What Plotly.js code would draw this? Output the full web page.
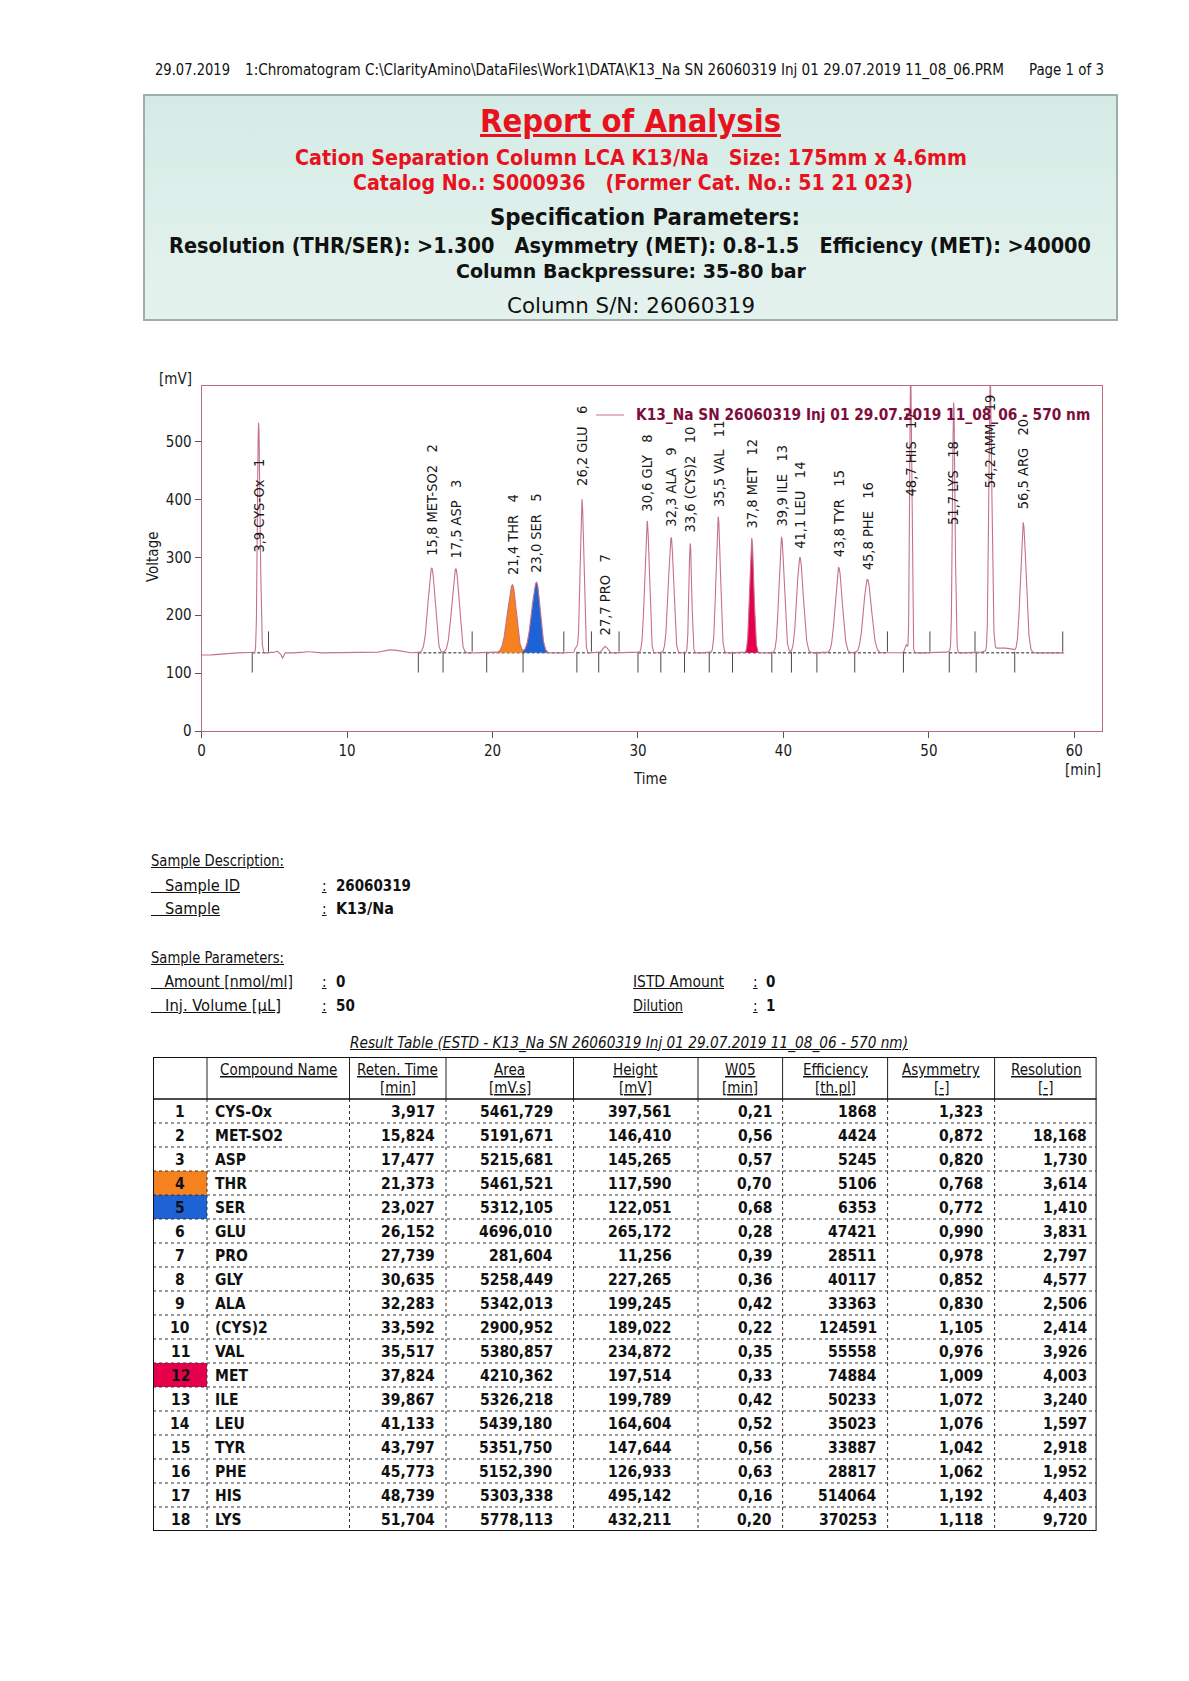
<!DOCTYPE html>
<html><head><meta charset="utf-8">
<script src="https://cdn.plot.ly/plotly-3.0.1.min.js"></script>
<style>
body{margin:0;background:#fff;}
#page{position:relative;width:1189px;height:1681px;overflow:hidden;background:#fff;}
#box{position:absolute;left:143px;top:94px;width:971px;height:223px;border:2px solid #9db0a8;background:linear-gradient(180deg,#d4ebe5 0%,#dff0eb 60%,#e4f2ee 100%);}
#plot{position:absolute;left:0;top:0;width:1189px;height:1681px;}
#overlay{position:absolute;left:0;top:0;width:1189px;height:1681px;pointer-events:none;}
.t{position:absolute;white-space:pre;transform-origin:0 50%;font-family:'DejaVu Sans Condensed','Liberation Sans Narrow','Liberation Sans',sans-serif;color:#111;}
</style></head><body>
<div id="page">
 <div id="box"></div>
 <div id="plot"></div>
 <div id="overlay"></div>
</div>
<script>
// ---------------- DATA ----------------
const compoundNames = ['CYS-Ox','MET-SO2','ASP','THR','SER','GLU','PRO','GLY','ALA','(CYS)2','VAL','MET','ILE','LEU','TYR','PHE','HIS','LYS'];
const retTime   = [3.917,15.824,17.477,21.373,23.027,26.152,27.739,30.635,32.283,33.592,35.517,37.824,39.867,41.133,43.797,45.773,48.739,51.704];
const areaVals  = [5461.729,5191.671,5215.681,5461.521,5312.105,4696.010,281.604,5258.449,5342.013,2900.952,5380.857,4210.362,5326.218,5439.180,5351.750,5152.390,5303.338,5778.113];
const heightVals= [397.561,146.410,145.265,117.590,122.051,265.172,11.256,227.265,199.245,189.022,234.872,197.514,199.789,164.604,147.644,126.933,495.142,432.211];
const w05Vals   = [0.21,0.56,0.57,0.70,0.68,0.28,0.39,0.36,0.42,0.22,0.35,0.33,0.42,0.52,0.56,0.63,0.16,0.20];
const efficiencyVals = [1868,4424,5245,5106,6353,47421,28511,40117,33363,124591,55558,74884,50233,35023,33887,28817,514064,370253];
const asymmetryVals  = [1.323,0.872,0.820,0.768,0.772,0.990,0.978,0.852,0.830,1.105,0.976,1.009,1.072,1.076,1.042,1.062,1.192,1.118];
const resolutionVals = [null,18.168,1.730,3.614,1.410,3.831,2.797,4.577,2.506,2.414,3.926,4.003,3.240,1.597,2.918,1.952,4.403,9.720];
const headerLine1 = ['','Compound Name','Reten. Time','Area','Height','W05','Efficiency','Asymmetry','Resolution'];
const headerLine2 = ['','','[min]','[mV.s]','[mV]','[min]','[th.pl]','[-]','[-]'];

// peaks on the chart that are not in this page of the table
const extraNames  = ['AMM','ARG'];
const extraRT     = [54.21,56.48];
const extraHeight = [470,224];
const extraW05    = [0.24,0.45];
const extraAsym   = [1.25,1.10];

// small baseline disturbances: time, height [mV], width [min]
const featureT = [0.3,5.15,5.55,7.3,12.7,13.35,25.75,48.45,51.45,55.0];
const featureH = [-4,3,-9,2,4,4,10,14,3,9];
const featureW = [0.8,0.1,0.07,0.25,0.35,0.35,0.08,0.09,0.15,0.7];

const baselineLevel = 135;      // mV
const signalEnd = 59.3;         // min
const peakStartMarks = [3.48,14.9,16.6,19.6,22.1,25.8,27.3,30.0,31.57,33.2,34.9,36.5,39.2,40.55,42.3,44.9,48.25,51.4,53.25,55.9];
const peakEndMarks   = [4.6,18.6,24.9,26.8,28.7,47.15,50.07,53.17,59.2];
const baselineSegStart = [3.48,14.9,19.6,25.8,27.3,30.0,48.25,51.4,53.25];
const baselineSegEnd   = [4.6,18.6,24.9,26.8,28.7,47.15,50.07,53.17,59.2];
const filledPeakNo     = [4,5,12];
const filledStart      = [19.6,22.1,36.5];
const filledEnd        = [22.1,24.4,39.2];

const xTicks = [0,10,20,30,40,50,60];
const yTicks = [0,100,200,300,400,500];

// ---------------- STYLE / LAYOUT ----------------
const FONT = "DejaVu Sans Condensed, Liberation Sans Narrow, Liberation Sans, sans-serif";
const W = 1189, H = 1681;
const px = x => x / W, py = y => 1 - y / H;
const curveColor = '#c4718a';
const frameColor = '#b66c7e';
const fillColors = ['#f5821f','#1d63d5','#e6004c'];
const labelBase = [304,299,295,266,269,420,161,375,349,340,384,346,349,312,297,275,401,352,416,380];
// table geometry (pixels)
const tblLeft = 153, tblTop = 1057, headerH = 42, rowH = 24;
const colW = [54,142.5,96.5,127.5,124.5,84.6,105,107,102];
const colAlign = ['center','left','right','right','right','right','right','right','right'];
const colPad = [0,6,9,19,24,9,9,10,8];

// ---------------- BUILD SIGNAL ----------------
const allRT = retTime.concat(extraRT);
const allH  = heightVals.concat(extraHeight);
const allW  = w05Vals.concat(extraW05);
const allAs = asymmetryVals.concat(extraAsym);
const allNames = compoundNames.concat(extraNames);

function signalAt(t){
  let v = baselineLevel;
  for (let i=0;i<allRT.length;i++){
    const left = allW[i]/(1+allAs[i]), right = allW[i]*allAs[i]/(1+allAs[i]);
    const s = (t<allRT[i]?left:right)/1.17741;
    const d = (t-allRT[i])/s;
    if (Math.abs(d)<8) v += allH[i]*Math.exp(-0.5*d*d);
  }
  for (let j=0;j<featureT.length;j++){
    const d=(t-featureT[j])/featureW[j];
    if (Math.abs(d)<8) v += featureH[j]*Math.exp(-0.5*d*d);
  }
  return v;
}
const tx=[], ty=[];
for (let i=0;i<=Math.round(signalEnd*100);i++){ const t=i/100; tx.push(t); ty.push(signalAt(t)); }

const traces = [];
{
  const x=[],y=[];
  baselineSegStart.forEach((a,i)=>{x.push(a,baselineSegEnd[i],null);y.push(baselineLevel,baselineLevel,null);});
  traces.push({type:'scatter',mode:'lines',x,y,line:{color:'#222',width:1,dash:'3px,2px'},hoverinfo:'skip'});
}
filledPeakNo.forEach((n,k)=>{
  const x=[],yb=[],yc=[];
  for (let i=0;i<tx.length;i++){ if (tx[i]>=filledStart[k] && tx[i]<=filledEnd[k]){ x.push(tx[i]); yb.push(baselineLevel); yc.push(ty[i]); } }
  traces.push({type:'scatter',mode:'lines',x,y:yb,line:{width:0,color:'rgba(0,0,0,0)'},hoverinfo:'skip'});
  traces.push({type:'scatter',mode:'lines',x,y:yc,fill:'tonexty',fillcolor:fillColors[k],line:{width:0,color:fillColors[k]},hoverinfo:'skip'});
});
{
  const x=[],y=[];
  peakStartMarks.forEach(t=>{x.push(t,t,null);y.push(baselineLevel+2,baselineLevel-34,null);});
  peakEndMarks.forEach(t=>{x.push(t,t,null);y.push(baselineLevel+2,baselineLevel+37,null);});
  traces.push({type:'scatter',mode:'lines',x,y,line:{color:'#4a4a4a',width:1},hoverinfo:'skip'});
}
traces.push({type:'scatter',mode:'lines',x:tx,y:ty,line:{color:curveColor,width:1.1},hoverinfo:'skip'});
// invisible trace to create the table axes
traces.push({type:'scatter',mode:'markers',x:[0],y:[0],xaxis:'x2',yaxis:'y2',marker:{opacity:0},hoverinfo:'skip'});

// ---------------- ANNOTATIONS ----------------
const fmt=(v,d)=> v==null?'':v.toFixed(d).replace('.',',');
const annotations = [];
allRT.forEach((rt,i)=>{
  annotations.push({x:rt,y:labelBase[i],xref:'x',yref:'y',xanchor:'center',yanchor:'bottom',textangle:-90,showarrow:false,
    text:fmt(rt,1)+'\u00a0'+allNames[i]+'\u00a0\u00a0\u00a0'+(i+1),font:{family:FONT,size:14.5,color:'#1a1a1a'}});
});
const paperNote=(text,x,y,opt)=>Object.assign({text,x:px(x),y:py(y),xref:'paper',yref:'paper',showarrow:false,xanchor:'center',yanchor:'middle',font:{family:FONT,size:15,color:'#1a1a1a'}},opt||{});
annotations.push(paperNote('[mV]',175,379));
annotations.push(paperNote('Voltage',153,557,{textangle:-90}));
annotations.push(paperNote('Time',650,779));
annotations.push(paperNote('[min]',1083,770));
annotations.push(paperNote('<b>K13_Na SN 26060319 Inj 01 29.07.2019 11_08_06 - 570 nm</b>',634,415,{xanchor:'left',font:{family:FONT,size:15.3,color:'#7d0d3c'}}));

// ---------------- TABLE (drawn on its own axes) ----------------
const nRows = compoundNames.length;
const tblW = colW.reduce((a,b)=>a+b,0), tblH = headerH + nRows*rowH;
const colEdge=[0]; colW.forEach(w=>colEdge.push(colEdge[colEdge.length-1]+w));
const colValues = [
  compoundNames.map((_,i)=>String(i+1)), compoundNames,
  retTime.map(v=>fmt(v,3)), areaVals.map(v=>fmt(v,3)), heightVals.map(v=>fmt(v,3)),
  w05Vals.map(v=>fmt(v,2)), efficiencyVals.map(String), asymmetryVals.map(v=>fmt(v,3)), resolutionVals.map(v=>fmt(v,3))
];
const shapes = [{type:'line',xref:'paper',yref:'paper',x0:px(596),x1:px(624),y0:py(415),y1:py(415),line:{color:curveColor,width:1}}];
// highlighted number cells
filledPeakNo.forEach((n,k)=>{
  shapes.push({type:'rect',xref:'x2',yref:'y2',layer:'below',x0:colEdge[0],x1:colEdge[1],y0:headerH+(n-1)*rowH,y1:headerH+n*rowH,fillcolor:fillColors[k],line:{width:0}});
});
// grid
for (let r=1;r<nRows;r++) shapes.push({type:'line',xref:'x2',yref:'y2',x0:0,x1:tblW,y0:headerH+r*rowH,y1:headerH+r*rowH,line:{color:'#333',width:1,dash:'dot'}});
for (let c=1;c<colW.length;c++){
  shapes.push({type:'line',xref:'x2',yref:'y2',x0:colEdge[c],x1:colEdge[c],y0:0,y1:headerH,line:{color:'#222',width:1}});
  shapes.push({type:'line',xref:'x2',yref:'y2',x0:colEdge[c],x1:colEdge[c],y0:headerH,y1:tblH,line:{color:'#333',width:1,dash:'dot'}});
}
shapes.push({type:'line',xref:'x2',yref:'y2',x0:0,x1:tblW,y0:headerH,y1:headerH,line:{color:'#111',width:1.5}});
shapes.push({type:'rect',xref:'x2',yref:'y2',x0:0,x1:tblW,y0:0,y1:tblH,line:{color:'#111',width:2}});

const uline = s => s ? '<span style="text-decoration:underline">'+s+'</span>' : '';
for (let c=1;c<colW.length;c++){
  const cx=(colEdge[c]+colEdge[c+1])/2;
  annotations.push({xref:'x2',yref:'y2',x:cx,y:13,xanchor:'center',yanchor:'middle',showarrow:false,text:uline(headerLine1[c]),font:{family:FONT,size:15,color:'#111'}});
  if (headerLine2[c]) annotations.push({xref:'x2',yref:'y2',x:cx,y:31,xanchor:'center',yanchor:'middle',showarrow:false,text:uline(headerLine2[c]),font:{family:FONT,size:15,color:'#111'}});
}
for (let c=0;c<colW.length;c++){
  const al=colAlign[c];
  const x = al==='center' ? (colEdge[c]+colEdge[c+1])/2 : al==='left' ? colEdge[c]+colPad[c] : colEdge[c+1]-colPad[c];
  colValues[c].forEach((v,r)=>{
    if (!v) return;
    annotations.push({xref:'x2',yref:'y2',x,y:headerH+r*rowH+rowH/2+1,xanchor:al,yanchor:'middle',showarrow:false,text:'<b>'+v+'</b>',font:{family:FONT,size:15.5,color:'#111'}});
  });
}

const layout = {
  width:W,height:H,margin:{l:0,r:0,t:0,b:0},
  paper_bgcolor:'rgba(0,0,0,0)',plot_bgcolor:'rgba(0,0,0,0)',
  showlegend:false,
  xaxis:{domain:[px(201.6),px(1102)],range:[0,61.9],tickvals:xTicks,ticktext:xTicks.map(String),showgrid:false,zeroline:false,
    showline:true,mirror:true,linecolor:frameColor,linewidth:1,ticks:'outside',ticklen:6,tickcolor:'#555',
    tickfont:{family:FONT,size:15,color:'#1a1a1a'}},
  yaxis:{domain:[py(731),py(386)],range:[0,596],tickvals:yTicks,showgrid:false,zeroline:false,
    showline:true,mirror:true,linecolor:frameColor,linewidth:1,ticks:'outside',ticklen:6,tickcolor:'#555',
    tickfont:{family:FONT,size:15,color:'#1a1a1a'}},
  xaxis2:{domain:[px(tblLeft),px(tblLeft+tblW)],range:[0,tblW],visible:false,anchor:'y2',fixedrange:true},
  yaxis2:{domain:[py(tblTop+tblH),py(tblTop)],range:[tblH,0],visible:false,anchor:'x2',fixedrange:true},
  shapes, annotations
};
Plotly.newPlot('plot',traces,layout,{staticPlot:true});

// ---------------- HTML TEXT ----------------
const ov = document.getElementById('overlay');
function addText(txt,left,yc,width,size,o){
  o=o||{};
  const d=document.createElement('div'); d.className='t'; d.innerHTML=txt;
  d.style.left=left+'px'; d.style.fontSize=size+'px';
  const lh=Math.round(size*1.25); d.style.lineHeight=lh+'px'; d.style.top=(yc-lh/2)+'px';
  if(o.bold) d.style.fontWeight='bold';
  if(o.color) d.style.color=o.color;
  if(o.underline) d.style.textDecoration='underline';
  if(o.italic) d.style.fontStyle='italic';
  ov.appendChild(d);
  if(width){ const w=d.getBoundingClientRect().width; d.style.transform='scaleX('+(width/w)+')'; }
  return d;
}
addText('29.07.2019',155,70,75,15);
addText('1:Chromatogram C:\\ClarityAmino\\DataFiles\\Work1\\DATA\\K13_Na SN 26060319 Inj 01 29.07.2019 11_08_06.PRM',245,70,759,15);
addText('Page 1 of 3',1029,70,75,15);
const RED='#e8121f';
addText('Report of Analysis',480,121,301,32,{bold:true,color:RED,underline:true});
addText('Cation Separation Column LCA K13/Na   Size: 175mm x 4.6mm',295,158,672,21,{bold:true,color:RED});
addText('Catalog No.: S000936   (Former Cat. No.: 51 21 023)',353,183,560,21,{bold:true,color:RED});
addText('Specification Parameters:',490,217,310,23,{bold:true});
addText('Resolution (THR/SER): &gt;1.300   Asymmetry (MET): 0.8-1.5   Efficiency (MET): &gt;40000',169,246,922,21,{bold:true});
addText('Column Backpressure: 35-80 bar',456,271,350,20,{bold:true});
addText('Column S/N: 26060319',507,306,248,22);
addText('Sample Description:',151,861,133,15,{underline:true});
addText('\u00a0\u00a0\u00a0Sample ID',151,886,89,15,{underline:true});
addText(':',322,886,null,15,{underline:true});
addText('26060319',336,886,75,15,{bold:true});
addText('\u00a0\u00a0\u00a0Sample',151,909,69,15,{underline:true});
addText(':',322,909,null,15,{underline:true});
addText('K13/Na',336,909,58,15,{bold:true});
addText('Sample Parameters:',151,958,133,15,{underline:true});
addText('\u00a0\u00a0\u00a0Amount [nmol/ml]',151,982,142,15,{underline:true});
addText(':',322,982,null,15,{underline:true});
addText('0',336,982,null,15,{bold:true});
addText('\u00a0\u00a0\u00a0Inj. Volume [\u00b5L]',151,1006,130,15,{underline:true});
addText(':',322,1006,null,15,{underline:true});
addText('50',336,1006,null,15,{bold:true});
addText('ISTD Amount',633,982,91,15,{underline:true});
addText(':',753,982,null,15,{underline:true});
addText('0',766,982,null,15,{bold:true});
addText('Dilution',633,1006,50,15,{underline:true});
addText(':',753,1006,null,15,{underline:true});
addText('1',766,1006,null,15,{bold:true});
addText('Result Table (ESTD - K13_Na SN 26060319 Inj 01 29.07.2019 11_08_06 - 570 nm)',350,1043,558,15,{italic:true,underline:true});
</script>
</body></html>
